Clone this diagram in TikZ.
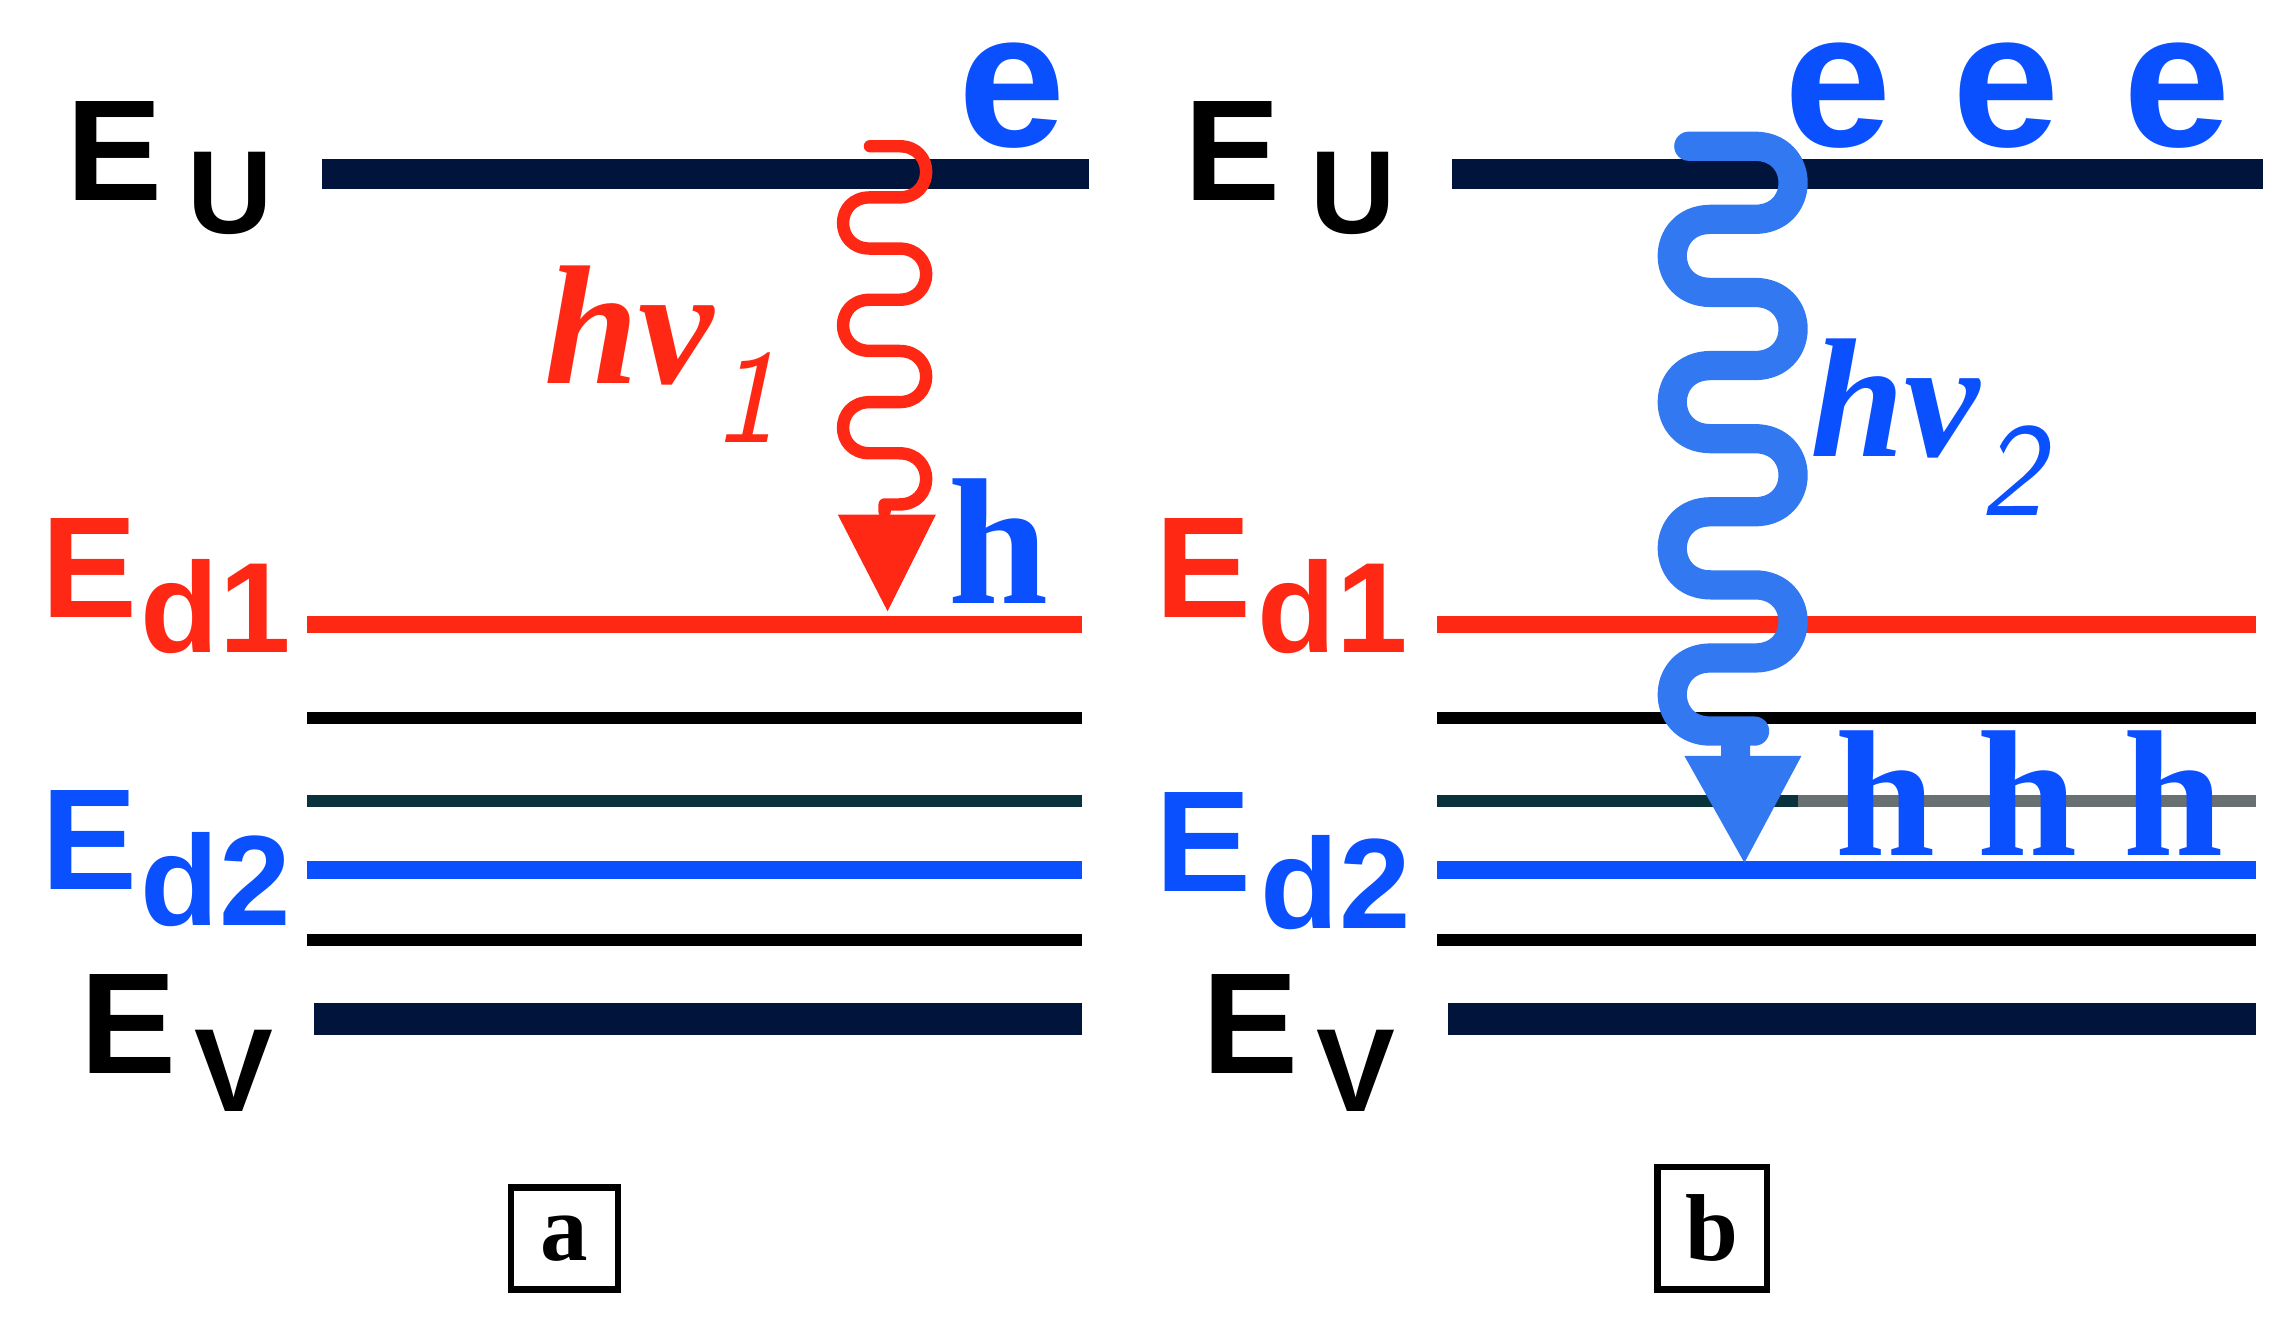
\documentclass[tikz,border=0pt]{standalone}
\usepackage{fontspec}
\setmainfont{Liberation Sans}
\newfontfamily\serif{Liberation Serif}
\definecolor{navy}{RGB}{0,20,60}
\definecolor{myred}{RGB}{255,40,20}
\definecolor{myblue}{RGB}{10,80,255}
\definecolor{teal2}{RGB}{10,50,60}
\definecolor{lblue}{RGB}{50,120,240}
\tikzset{
 lab/.style={inner sep=0pt,anchor=base west,font=\bfseries\fontsize{56}{56}\selectfont},
 sub/.style={inner sep=0pt,anchor=base west,font=\bfseries\fontsize{46}{46}\selectfont},
 dsub/.style={inner sep=0pt,anchor=base west,font=\bfseries\fontsize{50}{50}\selectfont},
 ee/.style={inner sep=0pt,anchor=base west,text=myblue,font=\bfseries\fontsize{75}{75}\selectfont},
 hh/.style={inner sep=0pt,anchor=base west,text=myblue,font=\serif\bfseries\fontsize{70}{70}\selectfont},
 hv/.style={inner sep=0pt,anchor=base west,font=\serif\bfseries\itshape\fontsize{66}{66}\selectfont},
 lvl/.style={line width=#1*0.02cm},
 wig/.style={line cap=round,line join=round},
 box/.style={draw,line width=2.5pt,inner sep=0pt,minimum width=1.46cm,minimum height=1.4cm,font=\serif\bfseries\fontsize{37}{37}\selectfont},
}
\begin{document}
\begin{tikzpicture}[x=0.02cm,y=-0.02cm]
\useasboundingbox (0,0) rectangle (1560,907);
% ---------- panel a
\draw[navy,lvl=20] (220,119) -- (745,119);
\draw[myred,lvl=12] (210,427) -- (740,427);
\draw[black,lvl=8] (210,491) -- (740,491);
\draw[teal2,lvl=8] (210,548) -- (740,548);
\draw[myblue,lvl=12] (210,595) -- (740,595);
\draw[black,lvl=8] (210,643) -- (740,643);
\draw[navy,lvl=22] (215,697) -- (740,697);
\node[lab] (aEu) at (45,137) {E};
\node[sub] (aEuS) at (128,160) {U};
\node[lab,text=myred] (aEd1) at (28,422) {E};
\node[dsub,text=myred] (aEd1S) at (96,446) {d1};
\node[lab,text=myblue] (aEd2) at (28,608) {E};
\node[dsub,text=myblue] (aEd2S) at (96,633) {d2};
\node[lab] (aEv) at (55,734) {E};
\node[sub] (aEvS) at (133,760) {V};
\node[ee] (ae) at (655,100) {e};
\node[hh] (ah) at (648,413) {h};
\node[hv,text=myred] (ahv) at (372,262)
 {hν\raisebox{-0.35em}{\fontsize{52}{52}\selectfont\sffamily\mdseries\itshape 1}};
\coordinate (aw1) at (595,100);
\coordinate (aw2) at (605,350);
\draw[myred,wig,line width=0.17cm] (aw1) -- ++(20,0)
  \foreach \i in {1,2,3}{ to[out=0,in=0,looseness=1.8] ++(0,35) -- ++(-20,0)
  to[out=180,in=180,looseness=1.8] ++(0,35) -- ++(20,0)}
  to[out=0,in=0,looseness=1.8] ++(0,35) -- ++(-10,0) -- (aw2);
\fill[myred] (573,352) -- (640,352) -- (607,418) -- cycle;
\node[box] (boxa) at (386,847) {a};
% ---------- panel b
\draw[navy,lvl=20] (993,119) -- (1548,119);
\draw[myred,lvl=12] (983,427) -- (1543,427);
\draw[black,lvl=8] (983,491) -- (1543,491);
\draw[teal2,lvl=8] (983,548) -- (1230,548);
\draw[gray!80!teal2,lvl=8] (1230,548) -- (1543,548);
\draw[myblue,lvl=12] (983,595) -- (1543,595);
\draw[black,lvl=8] (983,643) -- (1543,643);
\draw[navy,lvl=22] (990,697) -- (1543,697);
\node[lab] (bEu) at (810,137) {E};
\node[sub] (bEuS) at (896,160) {U};
\node[lab,text=myred] (bEd1) at (790,422) {E};
\node[dsub,text=myred] (bEd1S) at (860,446) {d1};
\node[lab,text=myblue] (bEd2) at (790,610) {E};
\node[dsub,text=myblue] (bEd2S) at (862,635) {d2};
\node[lab] (bEv) at (822,734) {E};
\node[sub] (bEvS) at (900,760) {V};
\node[ee] (be1) at (1220,100) {e};
\node[ee] (be2) at (1335,100) {e};
\node[ee] (be3) at (1452,100) {e};
\node[hh] (bh1) at (1255,585) {h};
\node[hh] (bh2) at (1352,585) {h};
\node[hh] (bh3) at (1452,585) {h};
\node[hv,text=myblue] (bhv) at (1238,312)
 {hν\raisebox{-0.35em}{\fontsize{52}{52}\selectfont\sffamily\mdseries\itshape 2}};
\coordinate (bw1) at (1155,100);
\coordinate (bw2) at (1187,520);
\draw[lblue,wig,line width=0.4cm] (bw1) -- ++(45,0)
  \foreach \i in {1,2,3,4}{ to[out=0,in=0,looseness=1.8] ++(0,50) -- ++(-30,0)
  to[out=180,in=180,looseness=1.8] ++(0,50) -- ++(30,0)}
  -- ++(-13,0) -- (bw2);
\fill[lblue] (1152,517) -- (1232,517) -- (1193,590) -- cycle;
\node[box,minimum height=1.68cm,minimum width=1.5cm] (boxb) at (1171,840) {b};
\end{tikzpicture}
\end{document}
